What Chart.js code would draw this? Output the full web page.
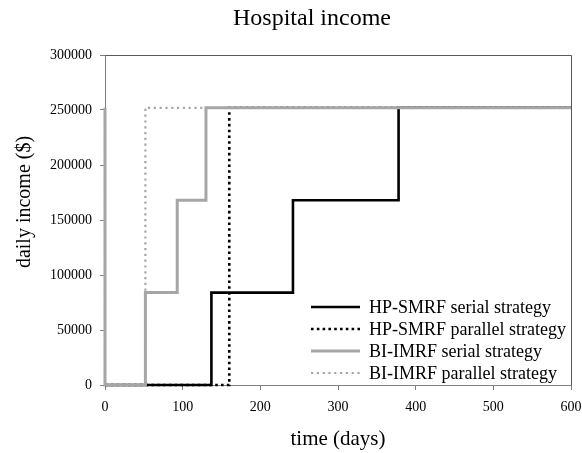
<!DOCTYPE html>
<html>
<head>
<meta charset="utf-8">
<script src="https://cdn.jsdelivr.net/npm/chart.js@4/dist/chart.umd.min.js"></script>
<style>
  html, body { margin: 0; padding: 0; background: #fff; }
  #wrap { width: 582px; height: 453px; }
</style>
</head>
<body>
<div id="wrap"><canvas id="myChart" width="582" height="453"></canvas></div>
<script>
// dados (dias em que a renda muda / renda diária)
const hpSerialDays = [0, 137, 242, 378, 600];
const hpSerialIncome = [0, 84000, 168000, 252000, 252000];
const hpParallelDays = [0, 160, 600];
const hpParallelIncome = [0, 252000, 252000];
const biSerialDays = [0, 0, 52, 93, 130, 600];
const biSerialIncome = [252000, 0, 84000, 168000, 252000, 252000];
const biParallelDays = [0, 0, 52, 600];
const biParallelIncome = [252000, 0, 252000, 252000];

const seriesNames = ['HP-SMRF serial strategy', 'HP-SMRF parallel strategy', 'BI-IMRF serial strategy', 'BI-IMRF parallel strategy'];
const xTicks = [0, 100, 200, 300, 400, 500, 600];
const yTicks = [0, 50000, 100000, 150000, 200000, 250000, 300000];

const SERIF = "'Liberation Serif', 'Times New Roman', serif";
const axisColor = '#7f7f7f';

function toPoints(xs, ys) {
  return xs.map((x, i) => ({ x: x, y: ys[i] }));
}

// título, moldura e legenda desenhados à mão
const extras = {
  id: 'extras',
  afterDatasetsDraw(chart) {
    const ctx = chart.ctx;
    const a = chart.chartArea;
    ctx.save();
    ctx.strokeStyle = '#595959';
    ctx.lineWidth = 1;
    ctx.beginPath();
    ctx.moveTo(Math.round(a.left) + 0.5, Math.round(a.top) + 0.5);
    ctx.lineTo(Math.round(a.right) + 0.5, Math.round(a.top) + 0.5);
    ctx.lineTo(Math.round(a.right) + 0.5, Math.round(a.bottom) + 0.5);
    ctx.stroke();

    ctx.fillStyle = '#000';
    ctx.font = '24px ' + SERIF;
    ctx.textAlign = 'center';
    ctx.textBaseline = 'alphabetic';
    ctx.fillText('Hospital income', 312, 25);

    // título do eixo y
    ctx.save();
    ctx.translate(25, 202);
    ctx.rotate(-Math.PI / 2);
    ctx.textBaseline = 'middle';
    ctx.font = '20px ' + SERIF;
    ctx.fillText('daily income ($)', 0, 0);
    ctx.restore();

    // legenda
    const rows = [307, 329, 351, 373];
    ctx.font = '18px ' + SERIF;
    ctx.textAlign = 'left';
    ctx.textBaseline = 'middle';
    chart.data.datasets.forEach((ds, i) => {
      const y = rows[i];
      ctx.save();
      ctx.strokeStyle = ds.borderColor;
      ctx.lineWidth = ds.borderWidth;
      ctx.setLineDash(ds.borderDash || []);
      ctx.beginPath();
      ctx.moveTo(311, y);
      ctx.lineTo(360, y);
      ctx.stroke();
      ctx.restore();
      ctx.fillStyle = '#000';
      ctx.fillText(ds.label, 369, y + 1);
    });
    ctx.restore();
  }
};

const ctx = document.getElementById('myChart').getContext('2d');
new Chart(ctx, {
  type: 'line',
  data: {
    datasets: [
      {
        label: seriesNames[0],
        data: toPoints(hpSerialDays, hpSerialIncome),
        borderColor: '#000000',
        borderWidth: 2.6,
        stepped: true,
        clip: false,
        order: 3
      },
      {
        label: seriesNames[1],
        data: toPoints(hpParallelDays, hpParallelIncome),
        borderColor: '#000000',
        borderWidth: 2.6,
        borderDash: [2.6, 3.2],
        stepped: true,
        clip: false,
        order: 2
      },
      {
        label: seriesNames[2],
        data: toPoints(biSerialDays, biSerialIncome),
        borderColor: '#a6a6a6',
        borderWidth: 3,
        stepped: true,
        clip: false,
        order: 0
      },
      {
        label: seriesNames[3],
        data: toPoints(biParallelDays, biParallelIncome),
        borderColor: '#a6a6a6',
        borderWidth: 2.2,
        borderDash: [2.2, 3.6],
        stepped: true,
        clip: false,
        order: 1
      }
    ]
  },
  options: {
    responsive: false,
    animation: false,
    layout: { padding: { top: 55, right: 11, bottom: 0, left: 0 } },
    elements: { point: { radius: 0 }, line: { tension: 0, fill: false } },
    plugins: { legend: { display: false }, tooltip: { enabled: false }, title: { display: false } },
    scales: {
      x: {
        type: 'linear',
        min: 0,
        max: 600,
        afterBuildTicks: (s) => { s.ticks = xTicks.map(v => ({ value: v })); },
        afterFit: (s) => { s.height = 68; s.paddingRight = 0; s.paddingLeft = 0; },
        grid: { drawOnChartArea: false, tickLength: 5, color: axisColor },
        border: { color: axisColor, z: -1 },
        ticks: { color: '#000', font: { family: SERIF, size: 14 }, padding: 9, maxRotation: 0 },
        title: { display: true, text: 'time (days)', color: '#000', font: { family: SERIF, size: 21 }, padding: { bottom: 1 } }
      },
      y: {
        type: 'linear',
        min: 0,
        max: 300000,
        afterBuildTicks: (s) => { s.ticks = yTicks.map(v => ({ value: v })); },
        afterFit: (s) => { s.width = 105; s.paddingTop = 0; s.paddingBottom = 0; },
        grid: { drawOnChartArea: false, tickLength: 5, color: axisColor },
        border: { color: axisColor, z: -1 },
        ticks: { color: '#000', font: { family: SERIF, size: 14 }, padding: 8, callback: (v) => String(v) },
        title: { display: false }
      }
    }
  },
  plugins: [extras]
});
</script>
</body>
</html>
